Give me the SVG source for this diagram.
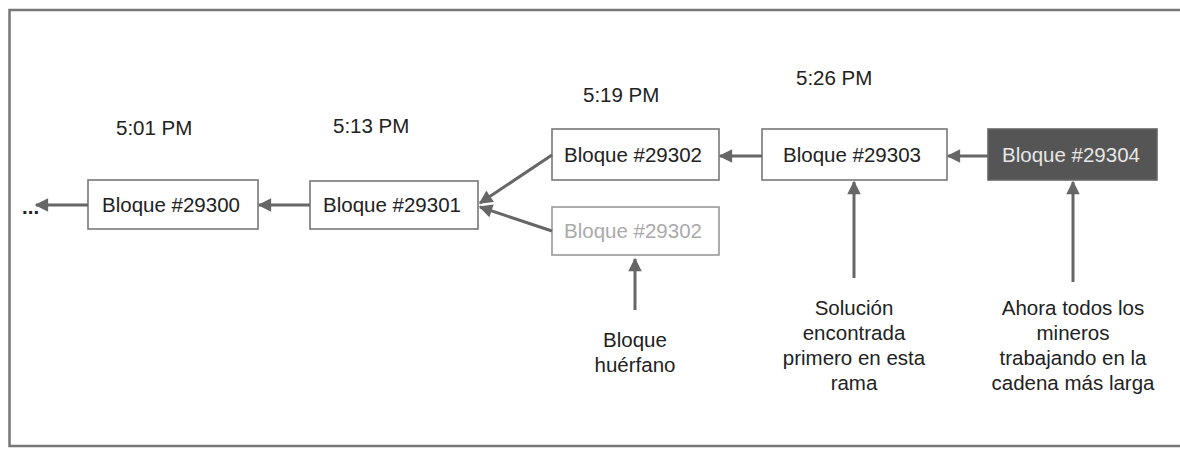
<svg xmlns="http://www.w3.org/2000/svg" width="1180" height="457" viewBox="0 0 1180 457">
<style>
text{font-family:"Liberation Sans",Arial,sans-serif;font-size:20.5px;fill:#222}
.box{fill:#fff;stroke:#777;stroke-width:1.6}
.c{text-anchor:middle}
.con{stroke:#666;stroke-width:3;fill:none;marker-end:url(#ah)}
</style>
<defs>
<marker id="ah" viewBox="0 0 10 10" refX="9" refY="5" markerWidth="5" markerHeight="4.5" orient="auto" markerUnits="strokeWidth">
<path d="M0,0 L10,5 L0,10 z" fill="#666"/>
</marker>
</defs>
<rect width="1180" height="457" fill="#fff"/>
<path d="M1180,10 H9.5 V446 H1180" fill="none" stroke="#777" stroke-width="2.5"/>
<g id="times">
<text x="116" y="135">5:01 PM</text>
<text x="333" y="133">5:13 PM</text>
<text x="583" y="102">5:19 PM</text>
<text x="796" y="85">5:26 PM</text>
</g>
<g id="ellipsis"><text x="22" y="214" style="font-weight:bold">...</text></g>
<g id="b29300"><rect class="box" x="88" y="180" width="170" height="49"/><text class="c" x="171" y="212">Bloque #29300</text></g>
<g id="b29301"><rect class="box" x="310" y="181" width="168" height="48"/><text class="c" x="392" y="212">Bloque #29301</text></g>
<g id="b29302"><rect class="box" x="552" y="129" width="167" height="51"/><text class="c" x="633" y="162">Bloque #29302</text></g>
<g id="b29302o"><rect class="box" x="552" y="207" width="167" height="48" style="stroke:#999"/><text class="c" x="633" y="238" style="fill:#aaa">Bloque #29302</text></g>
<g id="b29303"><rect class="box" x="762" y="129" width="185" height="51"/><text class="c" x="852" y="162">Bloque #29303</text></g>
<g id="b29304"><rect x="988" y="129" width="169" height="51" fill="#555" stroke="#666" stroke-width="1.6"/><text class="c" x="1071" y="162" style="fill:#e6e6e6">Bloque #29304</text></g>
<g id="connectors">
<line class="con" x1="88" y1="205" x2="36" y2="205"/>
<line class="con" x1="310" y1="205" x2="259" y2="205"/>
<line class="con" x1="552" y1="155" x2="480" y2="203"/>
<line class="con" x1="552" y1="231" x2="480" y2="207"/>
<line class="con" x1="762" y1="156" x2="720" y2="156"/>
<line class="con" x1="988" y1="156" x2="948" y2="156"/>
<line class="con" x1="635" y1="310" x2="635" y2="259"/>
<line class="con" x1="854" y1="278" x2="854" y2="182"/>
<line class="con" x1="1073" y1="282" x2="1073" y2="182"/>
</g>
<g id="lbl-huerfano"><text class="c" x="635" y="347">Bloque</text><text class="c" x="635" y="372">huérfano</text></g>
<g id="lbl-solucion"><text class="c" x="854" y="315">Solución</text><text class="c" x="854" y="340">encontrada</text><text class="c" x="854" y="365">primero en esta</text><text class="c" x="854" y="390">rama</text></g>
<g id="lbl-ahora"><text class="c" x="1073" y="315">Ahora todos los</text><text class="c" x="1073" y="340">mineros</text><text class="c" x="1073" y="365">trabajando en la</text><text class="c" x="1073" y="390">cadena más larga</text></g>
</svg>
